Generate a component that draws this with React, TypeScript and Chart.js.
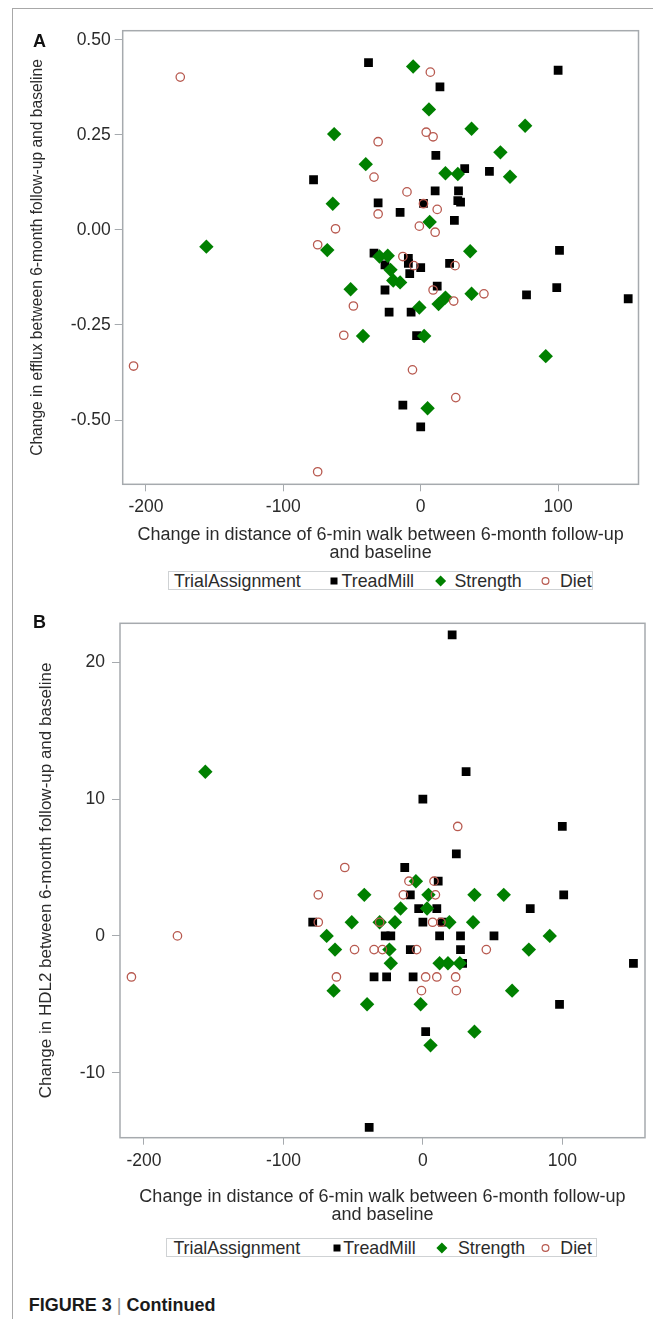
import React, { useEffect, useRef } from "react";
import { Chart, registerables } from "chart.js";

Chart.register(...registerables);

const FONT = "'Liberation Sans', Arial, Helvetica, sans-serif";
const TEXT = "#2b2b2b";
const AXIS = "#a6aaae";
const C_TREAD = "#000000";
const C_STRENGTH = "#008000";
const C_DIET = "#b85a50";

// ---- text ----
const seriesNames = ["TreadMill", "Strength", "Diet"];
const legendTitle = "TrialAssignment";
const xTitleLines = ["Change in distance of 6-min walk between 6-month follow-up", "and baseline"];
const aYTitle = "Change in efflux between 6-month follow-up and baseline";
const bYTitle = "Change in HDL2 between 6-month follow-up and baseline";
const panelLabels = ["A", "B"];
const captionBold = "FIGURE 3";
const captionRest = "Continued";

// ---- ticks ----
const xTickValues = [-200, -100, 0, 100];
const aYTickValues = [-0.5, -0.25, 0, 0.25, 0.5];
const bYTickValues = [-10, 0, 10, 20];

// ---- Panel A data (x: change in 6-min walk, y: change in efflux) ----
const aTreadX = [-38, 14, 100, 11, 32, 50, -78, 10.5, 27.5, -31, 2, 27, 29, -15, 24.5, -34, -9, -9, 0, 21, 101, -26, -8, -26, 12, 77, 99, 151, -23, -7, -3, -13, 0];
const aTreadY = [0.44, 0.376, 0.42, 0.196, 0.161, 0.154, 0.132, 0.103, 0.103, 0.071, 0.07, 0.077, 0.073, 0.046, 0.025, -0.061, -0.075, -0.088, -0.099, -0.088, -0.054, -0.092, -0.115, -0.158, -0.148, -0.171, -0.152, -0.181, -0.216, -0.216, -0.278, -0.461, -0.518];
const aStrX = [-5.5, 6, -63, 37, 76, 58, -40, 18, 27, 65, -64, 6.5, -156, -68, -30, -24, 36, -22, -20, -15, -51, 18, 13, 37, -1, -42, 2.5, 91, 5];
const aStrY = [0.43, 0.317, 0.252, 0.266, 0.274, 0.204, 0.173, 0.149, 0.147, 0.14, 0.069, 0.021, -0.044, -0.053, -0.07, -0.068, -0.056, -0.105, -0.133, -0.138, -0.156, -0.178, -0.195, -0.168, -0.204, -0.279, -0.279, -0.332, -0.469];
const aDietX = [-175, 7, -31, 4, 9, -34, -10, 2, -31, 12, -62, -1, 10.5, -75, -13, -5, 25, 9, 24, 46, -49, -56, -209, -6, 25.5, -75];
const aDietY = [0.402, 0.415, 0.232, 0.257, 0.245, 0.139, 0.1, 0.069, 0.042, 0.054, 0.003, 0.01, -0.006, -0.039, -0.07, -0.094, -0.094, -0.158, -0.187, -0.168, -0.2, -0.277, -0.358, -0.368, -0.441, -0.636];

// ---- Panel B data (x: change in 6-min walk, y: change in HDL2) ----
const bTreadX = [21, 31, 0, 100, 24, -13, 11, -9, 101, -3, 10, 77, -79, 0, 14, -27, -23, 12, 27, 51, -9, 27, 28.5, 151, -35, -26, -7, 98, 2, -38.5];
const bTreadY = [22, 12, 10, 8, 6, 5, 4, 3, 3, 2, 2, 2, 1, 1, 1, 0, 0, 0, 0, 0, -1, -1, -2, -2, -3, -3, -3, -5, -7, -14];
const bStrX = [-156, -5, -42, 4, 37, 58, -16, 3, -51, -31, -20, 19, 36, -69, 91, -63, -24, 76, -23, 12, 18, 26.5, -64, 64, -40, -1.6, 37, 5.5];
const bStrY = [12, 4, 3, 3, 3, 3, 2, 2, 1, 1, 1, 1, 1, 0, 0, -1, -1, -1, -2, -2, -2, -2, -4, -4, -5, -5, -7, -8];
const bDietX = [-56, -10, 8, 25, -75, -14, 9, -75, -31, 7, 13, -176, -49, -35, -29, -4.5, 45.5, -209, -62, 2, 10, 23.5, -1, 24];
const bDietY = [5, 4, 4, 8, 3, 3, 3, 1, 1, 1, 1, 0, -1, -1, -1, -1, -1, -3, -3, -3, -3, -3, -4, -4];

const zip = (xs: number[], ys: number[]) => xs.map((x, i) => ({ x, y: ys[i] }));

type PanelCfg = {
  top: number;
  height: number;
  plotLeft: number;
  plotTop: number;
  plotRight: number;
  plotBottom: number;
  xMin: number;
  xMax: number;
  yMin: number;
  yMax: number;
  yTicks: number[];
  yFmt: (v: number) => string;
  yTitle: string;
  yTitleSize: number;
  yTitleCenter: number;
  yTickPad: number;
  xTickPad: number;
  tx: number[]; ty: number[];
  sx: number[]; sy: number[];
  dx: number[]; dy: number[];
};

const TICK_SIZE = 17.5;
const XTITLE_SIZE = 18;
const XTITLE_LH = 1.02;

const framePlugin = {
  id: "frame",
  beforeDatasetsDraw(chart: any) {
    const { ctx, chartArea: a } = chart;
    ctx.save();
    ctx.strokeStyle = AXIS;
    ctx.lineWidth = 1.5;
    ctx.strokeRect(a.left, a.top, a.right - a.left, a.bottom - a.top);
    ctx.restore();
  },
};

function ScatterPanel({ cfg }: { cfg: PanelCfg }) {
  const ref = useRef<HTMLCanvasElement>(null);
  useEffect(() => {
    const c = cfg;
    const xtlh = XTITLE_SIZE * XTITLE_LH;
    const chart = new Chart(ref.current as HTMLCanvasElement, {
      type: "scatter",
      data: {
        datasets: [
          { label: seriesNames[0], data: zip(c.tx, c.ty), pointStyle: "rect", radius: 6.2, backgroundColor: C_TREAD, borderColor: C_TREAD, borderWidth: 0, order: 3 } as any,
          { label: seriesNames[1], data: zip(c.sx, c.sy), pointStyle: "rectRot", radius: 7.2, backgroundColor: C_STRENGTH, borderColor: C_STRENGTH, borderWidth: 0, order: 2 } as any,
          { label: seriesNames[2], data: zip(c.dx, c.dy), pointStyle: "circle", radius: 4.2, backgroundColor: "rgba(0,0,0,0)", borderColor: C_DIET, borderWidth: 1.3, order: 1 } as any,
        ],
      },
      options: {
        responsive: false,
        animation: false,
        events: [],
        layout: { padding: { left: 0, top: c.plotTop - c.top, right: 663 - c.plotRight, bottom: 0 } },
        plugins: { legend: { display: false }, tooltip: { enabled: false } },
        scales: {
          x: {
            type: "linear",
            position: "bottom",
            min: c.xMin,
            max: c.xMax,
            afterBuildTicks: (s: any) => {
              s.ticks = xTickValues.map((v) => ({ value: v }));
            },
            afterFit: (s: any) => {
              s.height = c.top + c.height - c.plotBottom;
            },
            grid: { drawOnChartArea: false, drawTicks: true, tickLength: 7, color: AXIS, lineWidth: 1 },
            border: { display: false },
            ticks: {
              padding: c.xTickPad,
              color: TEXT,
              font: { family: FONT, size: TICK_SIZE, lineHeight: 1.2 },
              maxRotation: 0,
              autoSkip: false,
              callback: (v: any) => String(v),
            },
            title: {
              display: true,
              text: xTitleLines,
              color: TEXT,
              font: { family: FONT, size: XTITLE_SIZE, lineHeight: XTITLE_LH },
              padding: { top: 0, bottom: 13 - xtlh / 2 },
            },
          },
          y: {
            type: "linear",
            position: "left",
            min: c.yMin,
            max: c.yMax,
            afterBuildTicks: (s: any) => {
              s.ticks = c.yTicks.map((v) => ({ value: v }));
            },
            afterFit: (s: any) => {
              s.width = c.plotLeft;
            },
            grid: { drawOnChartArea: false, drawTicks: true, tickLength: 8, color: AXIS, lineWidth: 1 },
            border: { display: false },
            ticks: {
              padding: c.yTickPad,
              color: TEXT,
              font: { family: FONT, size: TICK_SIZE },
              autoSkip: false,
              callback: (v: any) => c.yFmt(Number(v)),
            },
            title: {
              display: true,
              text: c.yTitle,
              color: TEXT,
              font: { family: FONT, size: c.yTitleSize, lineHeight: 1.2 },
              padding: { top: c.yTitleCenter - (c.yTitleSize * 1.2) / 2, bottom: 0 },
            },
          },
        },
      } as any,
      plugins: [framePlugin],
    });
    return () => chart.destroy();
  }, []);
  return (
    <canvas
      ref={ref}
      width={663}
      height={cfg.height}
      style={{ position: "absolute", left: 0, top: cfg.top, width: 663, height: cfg.height }}
    />
  );
}

type LegendLayout = {
  left: number; top: number; width: number; cy: number;
  titleX: number; sqX: number; treadX: number; diaX: number; strX: number; cirX: number; dietX: number;
};

function Legend({ l }: { l: LegendLayout }) {
  const txt = (x: number, s: string) => (
    <span style={{ position: "absolute", left: x, top: l.cy - 10, lineHeight: "20px", fontSize: 17.8, color: TEXT, whiteSpace: "nowrap" }}>{s}</span>
  );
  return (
    <>
      <div style={{ position: "absolute", left: l.left, top: l.top, width: l.width, height: 19, border: "1px solid #cfd2d4", boxSizing: "border-box" }} />
      {txt(l.titleX, legendTitle)}
      {txt(l.treadX, seriesNames[0])}
      {txt(l.strX, seriesNames[1])}
      {txt(l.dietX, seriesNames[2])}
      <svg style={{ position: "absolute", left: 0, top: l.cy - 10, overflow: "visible" }} width={663} height={20}>
        <rect x={l.sqX - 3.5} y={10 - 3.5} width={7} height={7} fill={C_TREAD} />
        <polygon points={`${l.diaX - 5.5},10 ${l.diaX},4.5 ${l.diaX + 5.5},10 ${l.diaX},15.5`} fill={C_STRENGTH} />
        <circle cx={l.cirX} cy={10} r={3.4} fill="none" stroke={C_DIET} strokeWidth={1.2} />
      </svg>
    </>
  );
}

const panelA: PanelCfg = {
  top: 0, height: 566,
  plotLeft: 122.7, plotTop: 30.7, plotRight: 638.5, plotBottom: 484.3,
  xMin: -216.9, xMax: 158.5, yMin: -0.669, yMax: 0.524,
  yTicks: aYTickValues, yFmt: (v) => v.toFixed(2),
  yTitle: aYTitle, yTitleSize: 15.6, yTitleCenter: 37.5, yTickPad: 4, xTickPad: 5,
  tx: aTreadX, ty: aTreadY, sx: aStrX, sy: aStrY, dx: aDietX, dy: aDietY,
};

const panelB: PanelCfg = {
  top: 600, height: 628,
  plotLeft: 120, plotTop: 623.3, plotRight: 645, plotBottom: 1137.7,
  xMin: -217.2, xMax: 159.3, yMin: -14.75, yMax: 22.85,
  yTitle: bYTitle, yTitleSize: 17, yTitleCenter: 46.3, yTickPad: 7, xTickPad: 5.5,
  yTicks: bYTickValues, yFmt: (v) => String(v),
  tx: bTreadX, ty: bTreadY, sx: bStrX, sy: bStrY, dx: bDietX, dy: bDietY,
};

const legendA: LegendLayout = { left: 168.3, top: 571, width: 425, cy: 580.5, titleX: 174, sqX: 334, treadX: 341.6, diaX: 440.6, strX: 454.5, cirX: 545.5, dietX: 560 };
const legendB: LegendLayout = { left: 165.8, top: 1238, width: 431.7, cy: 1247.5, titleX: 173.4, sqX: 337, treadX: 343.3, diaX: 441.9, strX: 458, cirX: 545.5, dietX: 560.3 };

export default function App() {
  const labelStyle = (cy: number): React.CSSProperties => ({
    position: "absolute", left: 33, top: cy - 10, lineHeight: "20px", fontSize: 18, fontWeight: "bold", color: "#111",
  });
  return (
    <div style={{ position: "absolute", left: 0, top: 0, width: 663, height: 1319, overflow: "hidden", background: "#fff", fontFamily: FONT }}>
      <div style={{ position: "absolute", left: 12, top: 7.5, width: 641, height: 1400, borderTop: "1.5px solid #a8a8a8", borderLeft: "1.5px solid #a8a8a8", boxSizing: "border-box" }} />
      <ScatterPanel cfg={panelA} />
      <ScatterPanel cfg={panelB} />
      <div style={labelStyle(40.5)}>{panelLabels[0]}</div>
      <div style={labelStyle(621.7)}>{panelLabels[1]}</div>
      <Legend l={legendA} />
      <Legend l={legendB} />
      <div style={{ position: "absolute", left: 28.8, top: 1295, lineHeight: "20px", fontSize: 18, fontWeight: "bold", color: "#1a1a1a", whiteSpace: "nowrap" }}>
        {captionBold} <span style={{ fontWeight: "normal", color: "#9a9a9a" }}>|</span> {captionRest}
      </div>
    </div>
  );
}
